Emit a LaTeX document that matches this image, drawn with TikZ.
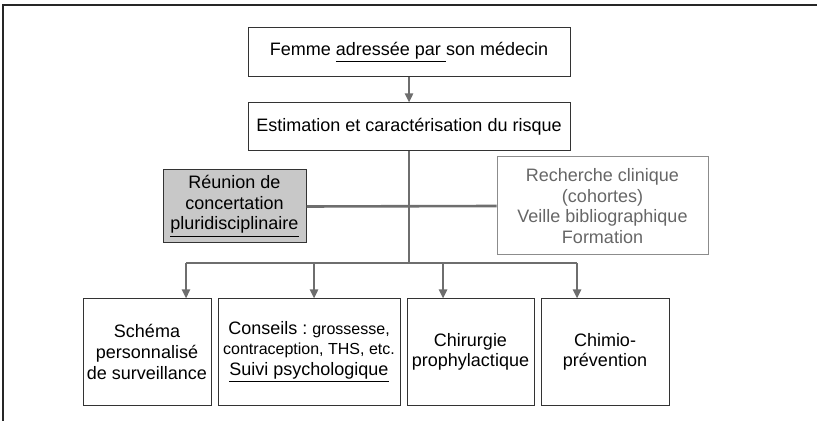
\documentclass[tikz,border=0pt]{standalone}
\usepackage{fontspec}
\setmainfont{Liberation Sans}
\usepackage{xcolor}
\usetikzlibrary{arrows.meta}
\definecolor{linegray}{HTML}{6E6E6E}
\definecolor{rcpgray}{HTML}{C8C8C8}

\begin{document}
\begin{tikzpicture}[x=0.5pt,y=-0.5pt,
    box/.style={draw=black!80, line width=0.5pt, align=center, inner sep=0pt, font=\fontsize{9}{10.3}\selectfont},
    conn/.style={draw=linegray, line width=1.3pt},
    arr/.style={conn, -{Triangle[length=4.5pt,width=4pt]}}]
            \useasboundingbox (0,0) rectangle (817,421);
            \draw[black!85, line width=1.2pt](3,421) -- (3,5) -- (817,5);
            \node[box, minimum width=161pt, minimum height=24.5pt] (femme) at (409,52.5) {Femme \underline{adressée par\ }son médecin};
            \node[box, minimum width=161pt, minimum height=24pt] (risque) at (409,127) {Estimation et caractérisation du risque};
            \node[box, fill=rcpgray, minimum width=71.5pt, minimum height=36.5pt] (rcp) at (234.5,206.5) {Réunion de\\concertation\\\underline{pluridisciplinaire}};
            \node[box, draw=black!45, text=black!60, minimum width=105.5pt, minimum height=49pt] (recherche) at (602.5,206) {Recherche clinique\\(cohortes)\\Veille bibliographique\\Formation};
            \node[box, minimum width=64pt, minimum height=53pt] (schema) at (147,352) {Schéma\\personnalisé\\de surveillance};
            \node[box, minimum width=91pt, minimum height=53pt] (conseils) at (309,352) {Conseils :~{\fontsize{8}{9.5}\selectfont grossesse,}\\{\fontsize{8}{9.5}\selectfont contraception, THS, etc.}\\\underline{Suivi psychologique}};
            \node[box, minimum width=63.5pt, minimum height=53pt] (chirurgie) at (470.5,352) {Chirurgie\\prophylactique};
            \node[box, minimum width=64pt, minimum height=53pt] (chimio) at (605,352) {Chimio-\\prévention};
            \foreach \n/\x in {schema/186,conseils/314,chirurgie/443,chimio/577}
                \coordinate (t\n) at (\x,263);
            \draw[arr](femme) -- (risque);
            \draw[conn](risque.south) -- (risque.south |- tschema);
            \draw[conn](rcp.east) -- (recherche.west);
            \draw[conn](tschema) -- (tchimio);
            \foreach \n in {schema,conseils,chirurgie,chimio}
                \draw[arr](t\n) -- (t\n |- \n.north);
        \end{tikzpicture}
\end{document}
